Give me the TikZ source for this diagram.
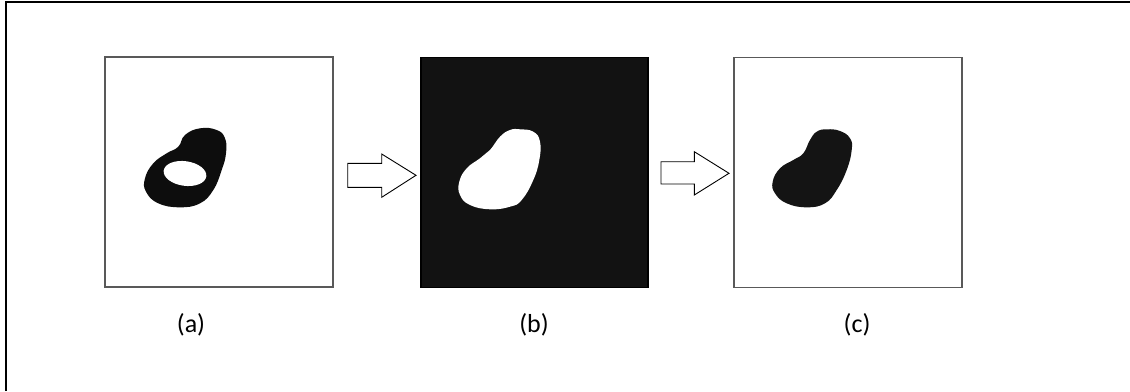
\documentclass[tikz,border=0pt]{standalone}
\usepackage{fontspec}
\setmainfont{Carlito}
\begin{document}
\begin{tikzpicture}[x=1pt,y=-1pt,
  panel/.style={draw=black!65,line width=1.3pt,inner sep=0pt,minimum width=#1,minimum height=230pt},
  lbl/.style={font=\fontsize{26}{30}\selectfont,inner sep=0pt},
  flow/.style={draw=black,line width=0.9pt,fill=white,line join=miter}]
\useasboundingbox (0,0) rectangle (1130,391);
\fill[white] (0,0) rectangle (1130,391);
% outer frame (left and top edges)
\draw[line width=2pt] (5.5,391) -- (5.5,1.5) -- (1130,1.5);
% panels
\node[panel=228pt,fill=white] (pa) at (219,172) {};
\node[panel=227pt,draw=black,fill=black!93] (pb) at (534.5,172.5) {};
\node[panel=228pt,fill=white] (pc) at (848,172.5) {};
% blob (a)
\fill[black!95] plot[smooth cycle,tension=0.75] coordinates {(200,128.3) (216.7,130) (225,138.3) (226,153.3) (221.7,170) (213.3,190) (200,203.3) (180,207.3) (158.3,203.3) (146,191.7) (145,178.3) (153.3,163.3) (166.7,153.3) (178.3,146.7) (185,135)};
\fill[white,rotate around={-8:(185,173.5)}] (185,173.5) ellipse [x radius=21.5pt,y radius=12.3pt];
% blob (b)
\fill[white] plot[smooth cycle,tension=0.75] coordinates {(520,129.3) (533.3,131.7) (540,141.7) (539.3,160) (533.3,180) (521.7,200) (510,206.7) (490,209.3) (470,205) (460,195) (459.3,181.7) (466.7,168.3) (480,158.3) (490,150) (500,136.7) (510,130)};
% blob (c)
\fill[black!92] plot[smooth cycle,tension=0.75] coordinates {(826.7,129.3) (840,131) (850,138.3) (851.7,150) (846.7,170) (836.7,190) (825,203.3) (806.7,207.3) (786.7,203.3) (775,193.3) (772.7,181.7) (780,168.3) (793.3,160) (803.3,153.3) (810,140) (816.7,131.7)};
% arrows
\draw[flow] (347.7,163.3) -- (381.7,163.3) -- (381.7,154) -- (416,175.3) -- (381.7,197.3) -- (381.7,187.3) -- (347.7,187.3) -- cycle;
\draw[flow] (661,161.7) -- (694.3,161.7) -- (694.3,151.7) -- (729,173.3) -- (694.3,195) -- (694.3,184) -- (661,184) -- cycle;
% labels
\node[lbl] (la) at (191,325) {(a)};
\node[lbl] (lb) at (534,325) {(b)};
\node[lbl] (lc) at (857,325) {(c)};
\end{tikzpicture}
\end{document}
